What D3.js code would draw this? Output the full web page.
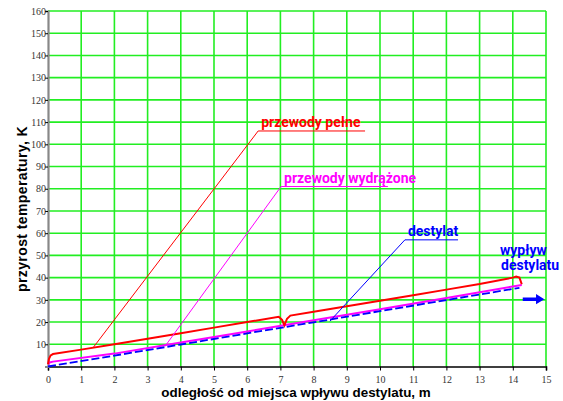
<!DOCTYPE html>
<html lang="pl">
<head>
<meta charset="UTF-8">
<title>Przyrost temperatury</title>
<script src="https://d3js.org/d3.v7.min.js"></script>
<style>
  body { margin: 0; background: #fff; }
  svg { display: block; }
</style>
</head>
<body>
<svg></svg>
<script>
const xTicks = d3.range(0, 16);
const yTicks = d3.range(0, 170, 10);

// przewody pełne (grubsza czerwona)
const fullX = [0, 0.03, 0.08, 0.15, 1, 2, 3, 4, 5, 6, 6.95, 7.05, 7.12, 7.2, 7.3, 8, 9, 10, 11, 12, 13, 14, 14.1, 14.2, 14.27];
const fullY = [1, 3.5, 5, 5.6, 7.6, 10, 12.5, 15, 17.5, 20, 22.4, 21, 18.5, 21.5, 22.9, 24.6, 27.1, 29.6, 32.1, 34.6, 37.1, 40, 40.5, 40, 37];
// przewody wydrążone (różowa)
const hollowX = [0, 0.05, 0.15, 2, 4, 6, 8, 10, 12, 14.27];
const hollowY = [1, 1.8, 2.2, 5.8, 10.8, 15.8, 20.8, 25.8, 30.8, 36.7];
// destylat (niebieska przerywana)
const distX = [0, 2, 4, 6, 8, 10, 12, 14.2];
const distY = [0, 4.9, 9.9, 14.9, 19.9, 24.9, 29.9, 35.4];

// linie odnośników: [x0, y0, x1, y1, koniec podkreślenia]
const leaders = [
  { name: "przewody pełne", color: "#ff0000", p: [1.36, 8.5, 6.33, 106, 9.55] },
  { name: "przewody wydrążone", color: "#ff00ff", p: [3.52, 9.0, 7.02, 81, 10.24] },
  { name: "destylat", color: "#0000ff", p: [8.49, 20.4, 10.75, 57, 12.35] }
];

const width = 563, height = 401;
const svg = d3.select("svg").attr("width", width).attr("height", height);

const x = d3.scaleLinear().domain([0, 15]).range([48, 546]);
const y = d3.scaleLinear().domain([0, 160]).range([366.5, 11]);

// siatka
svg.append("g").selectAll("line")
  .data(xTicks.slice(1))
  .join("line")
  .attr("x1", d => x(d)).attr("x2", d => x(d))
  .attr("y1", y(0)).attr("y2", y(160))
  .attr("stroke", "#22ee22").attr("stroke-width", 1.6);
svg.append("g").selectAll("line")
  .data(yTicks.slice(1))
  .join("line")
  .attr("x1", x(0)).attr("x2", x(15))
  .attr("y1", d => y(d)).attr("y2", d => y(d))
  .attr("stroke", "#22ee22").attr("stroke-width", 1.6);

// osie
const xAxis = svg.append("g")
  .attr("transform", `translate(0,${y(0)})`)
  .call(d3.axisBottom(x).tickValues(xTicks).tickSize(4).tickPadding(5));
xAxis.select(".domain").attr("stroke", "#000").attr("stroke-width", 1.6);
xAxis.selectAll("line").attr("stroke", "#000");
xAxis.selectAll("text").attr("font-family", "'Liberation Serif', 'DejaVu Serif', serif").attr("font-size", 10).attr("fill", "#333");

const yAxis = svg.append("g")
  .attr("transform", `translate(${x(0)},0)`)
  .call(d3.axisLeft(y).tickValues(yTicks.slice(1)).tickSize(3).tickPadding(0));
yAxis.select(".domain").attr("stroke", "#888").attr("stroke-width", 2.2);
yAxis.selectAll("line").attr("stroke", "#000");
yAxis.selectAll("text").attr("font-family", "'Liberation Serif', 'DejaVu Serif', serif").attr("font-size", 10).attr("fill", "#333").attr("dx", 1);

// krzywe
const line = d3.line().x(d => x(d[0])).y(d => y(d[1]));
const series = [
  { xs: hollowX, ys: hollowY, color: "#ff00ff", w: 2, dash: null },
  { xs: distX, ys: distY, color: "#0000ff", w: 1.8, dash: "8,3" },
  { xs: fullX, ys: fullY, color: "#ff0000", w: 2, dash: null }
];
series.forEach(s => {
  svg.append("path")
    .datum(s.xs.map((v, i) => [v, s.ys[i]]))
    .attr("d", line)
    .attr("fill", "none")
    .attr("stroke", s.color)
    .attr("stroke-width", s.w)
    .attr("stroke-dasharray", s.dash);
});

// odnośniki i etykiety
leaders.forEach(l => {
  const [x0, y0, x1, y1, x2] = l.p;
  svg.append("path")
    .attr("d", `M${x(x0)},${y(y0)}L${x(x1)},${y(y1)}L${x(x2)},${y(y1)}`)
    .attr("fill", "none").attr("stroke", l.color).attr("stroke-width", 1);
  svg.append("text")
    .attr("x", x(x1) + 3).attr("y", y(y1) - 4)
    .attr("fill", l.color)
    .attr("font-family", "Roboto, 'Liberation Sans', sans-serif")
    .attr("font-weight", "bold").attr("font-size", 14)
    .text(l.name);
});

const outText = svg.append("text")
  .attr("fill", "#0000ff")
  .attr("font-family", "Roboto, 'Liberation Sans', sans-serif")
  .attr("font-weight", "bold").attr("font-size", 14);
outText.append("tspan").attr("x", 500).attr("y", 255).text("wypływ");
outText.append("tspan").attr("x", 501).attr("y", 270).text("destylatu");

// strzałka wypływu
svg.append("path")
  .attr("d", `M${x(14.3)},${y(29.5)}L${x(14.7)},${y(29.5)}L${x(14.7)},${y(28)}L${x(14.95)},${y(30.3)}L${x(14.7)},${y(32.6)}L${x(14.7)},${y(31.1)}L${x(14.3)},${y(31.1)}Z`)
  .attr("fill", "#0000ff");

// tytuły osi
svg.append("text")
  .attr("x", 296).attr("y", 397)
  .attr("text-anchor", "middle")
  .attr("font-family", "'Liberation Sans', Arial, sans-serif")
  .attr("font-weight", "bold").attr("font-size", 13.4)
  .text("odległość od miejsca wpływu destylatu, m");
svg.append("text")
  .attr("transform", "translate(27,209) rotate(-90)")
  .attr("text-anchor", "middle")
  .attr("font-family", "'Liberation Sans', Arial, sans-serif")
  .attr("font-weight", "bold").attr("font-size", 14)
  .attr("letter-spacing", 0.4)
  .text("przyrost temperatury, K");
</script>
</body>
</html>
